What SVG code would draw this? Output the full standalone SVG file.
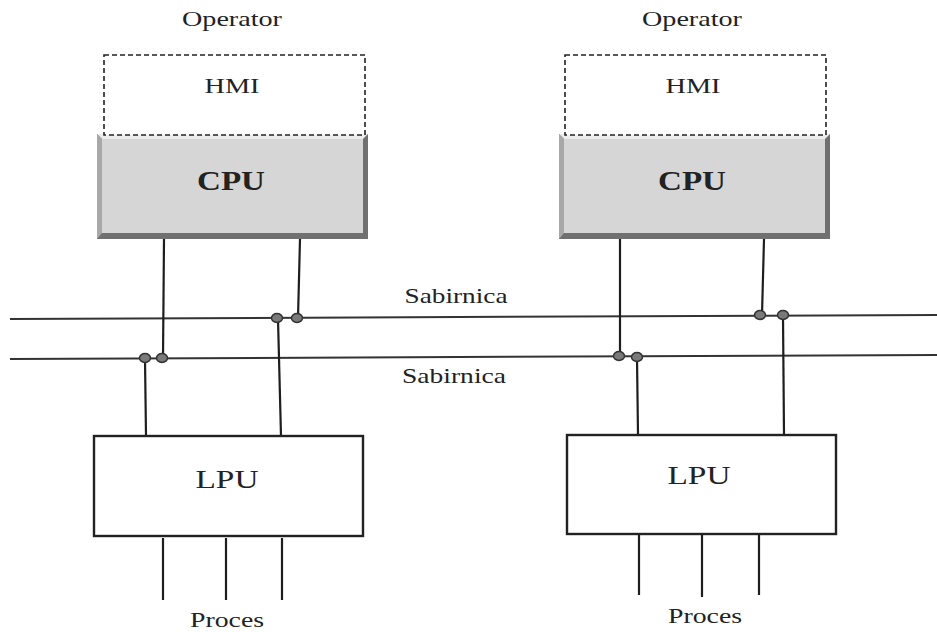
<svg xmlns="http://www.w3.org/2000/svg" width="937" height="632" viewBox="0 0 937 632">
<style>
text{font-family:"Liberation Serif","Times New Roman",serif;fill:#222;text-anchor:middle}
.wire{stroke:#1e1e1e;stroke-width:2.2;fill:none}
.bus{stroke:#333;stroke-width:2;fill:none}
.hmi{fill:#fff;stroke:#222;stroke-width:1.6;stroke-dasharray:5,3}
.lpu{fill:#fff;stroke:#222;stroke-width:2.4}
.joint{fill:#7a7a7a;stroke:#333;stroke-width:1.5}
.cpuo{fill:#707070}
.cpui{fill:#d6d6d6}
.hl{fill:#ececec}
.dk{fill:#a8a8a8}
</style>
<g id="connectors">
<line class="bus" x1="10" y1="319" x2="937" y2="315"/>
<line class="bus" x1="10" y1="359" x2="937" y2="355"/>
<line class="wire" x1="164" y1="239" x2="163" y2="358"/>
<line class="wire" x1="300" y1="239" x2="298" y2="318"/>
<line class="wire" x1="145" y1="359" x2="146" y2="436"/>
<line class="wire" x1="278" y1="319" x2="281" y2="436"/>
<line class="wire" x1="620" y1="239" x2="620" y2="356"/>
<line class="wire" x1="764" y1="239" x2="762" y2="315"/>
<line class="wire" x1="637" y1="358" x2="638" y2="435"/>
<line class="wire" x1="783" y1="316" x2="784" y2="435"/>
<line class="wire" x1="163" y1="538" x2="163" y2="600"/>
<line class="wire" x1="226" y1="538" x2="226" y2="600"/>
<line class="wire" x1="282" y1="538" x2="282" y2="600"/>
<line class="wire" x1="639" y1="535" x2="639" y2="595"/>
<line class="wire" x1="702" y1="535" x2="702" y2="597"/>
<line class="wire" x1="759" y1="535" x2="759" y2="595"/>
<ellipse class="joint" cx="145" cy="358" rx="5.5" ry="4.5"/>
<ellipse class="joint" cx="162" cy="358" rx="5.5" ry="4.5"/>
<ellipse class="joint" cx="277" cy="318" rx="5.5" ry="4.5"/>
<ellipse class="joint" cx="297" cy="318" rx="5.5" ry="4.5"/>
<ellipse class="joint" cx="619" cy="356" rx="5.5" ry="4.5"/>
<ellipse class="joint" cx="637" cy="357" rx="5.5" ry="4.5"/>
<ellipse class="joint" cx="760" cy="315" rx="5.5" ry="4.5"/>
<ellipse class="joint" cx="783" cy="315" rx="5.5" ry="4.5"/>
</g>
<g id="operator-left"><text x="232" y="26" font-size="21" textLength="100" lengthAdjust="spacingAndGlyphs">Operator</text></g>
<g id="operator-right"><text x="692" y="26" font-size="21" textLength="100" lengthAdjust="spacingAndGlyphs">Operator</text></g>
<g id="cpu-left">
<rect class="cpuo" x="97" y="134" width="271" height="105"/>
<polygon class="hl" points="97,134 368,134 363,139 102,139"/>
<polygon class="dk" points="97,134 102,139 102,233 97,239"/>
<rect class="cpui" x="102" y="139" width="261" height="94"/>
<text x="231" y="190" font-size="27" font-weight="bold" textLength="68" lengthAdjust="spacingAndGlyphs">CPU</text>
</g>
<g id="hmi-left">
<rect class="hmi" x="104" y="55" width="261" height="80"/>
<text x="232" y="93" font-size="21" textLength="55" lengthAdjust="spacingAndGlyphs">HMI</text>
</g>
<g id="cpu-right">
<rect class="cpuo" x="559" y="134" width="271" height="105"/>
<polygon class="hl" points="559,134 830,134 825,139 564,139"/>
<polygon class="dk" points="559,134 564,139 564,233 559,239"/>
<rect class="cpui" x="564" y="139" width="261" height="94"/>
<text x="692" y="190" font-size="27" font-weight="bold" textLength="68" lengthAdjust="spacingAndGlyphs">CPU</text>
</g>
<g id="hmi-right">
<rect class="hmi" x="565" y="55" width="261" height="80"/>
<text x="693" y="93" font-size="21" textLength="55" lengthAdjust="spacingAndGlyphs">HMI</text>
</g>
<g id="bus-label-top"><text x="456" y="303" font-size="22" textLength="103" lengthAdjust="spacingAndGlyphs">Sabirnica</text></g>
<g id="bus-label-bottom"><text x="454" y="383" font-size="22" textLength="104" lengthAdjust="spacingAndGlyphs">Sabirnica</text></g>
<g id="lpu-left">
<rect class="lpu" x="94" y="436" width="269" height="100"/>
<text x="227" y="488" font-size="26" textLength="63" lengthAdjust="spacingAndGlyphs">LPU</text>
</g>
<g id="lpu-right">
<rect class="lpu" x="567" y="435" width="269" height="99"/>
<text x="699" y="484" font-size="26" textLength="63" lengthAdjust="spacingAndGlyphs">LPU</text>
</g>
<g id="proces-left"><text x="227" y="627" font-size="22" textLength="74" lengthAdjust="spacingAndGlyphs">Proces</text></g>
<g id="proces-right"><text x="705" y="623" font-size="22" textLength="74" lengthAdjust="spacingAndGlyphs">Proces</text></g>
</svg>
